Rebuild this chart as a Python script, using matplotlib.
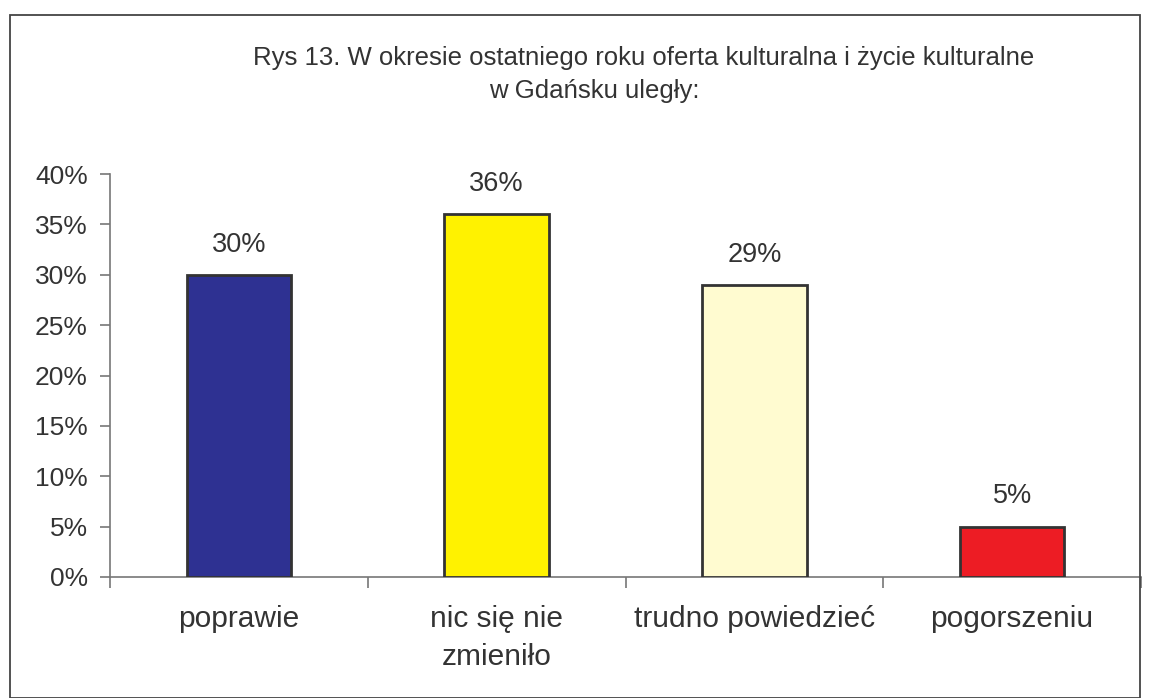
import matplotlib
matplotlib.use("Agg")
import matplotlib.pyplot as plt
from matplotlib.patches import Rectangle
import numpy as np

categories = ["poprawie", "nic się nie\nzmieniło", "trudno powiedzieć", "pogorszeniu"]
values = [30, 36, 29, 5]
colors = ["#2e3192", "#fff200", "#fffbd0", "#ed1c24"]
yticks = [0, 5, 10, 15, 20, 25, 30, 35, 40]

plt.rcParams['font.family'] = ['Liberation Sans', 'DejaVu Sans']
txt = '#333333'

fig = plt.figure(figsize=(11.5, 6.98), dpi=100)
fig.patches.append(Rectangle((10/1150, 0), 1130/1150, 683/698, transform=fig.transFigure,
                             fill=False, edgecolor='#444444', linewidth=1.3))

ax = fig.add_axes([110/1150, 121/698, 1031/1150, 403/698])
loc = np.arange(len(categories))
ax.bar(loc, values, 0.405, color=colors, edgecolor='#333333', linewidth=2, zorder=3)
for x, v in zip(loc, values):
    ax.text(x, v + 3, f"{v}%", ha='center', va='center', fontsize=19.5, color=txt)

ax.set_xlim(-0.5, len(categories) - 0.5)
ax.set_ylim(0, 40)
ax.set_yticks(yticks)
ax.set_yticklabels([f"{t}%" for t in yticks], fontsize=19, color=txt)
ax.set_xticks(loc)
ax.set_xticklabels(categories, fontsize=21.5, color=txt, linespacing=1.45)
ax.tick_params(axis='x', length=0, pad=20)
ax.tick_params(axis='y', length=7, color='#777777', width=1.2, pad=9)
ax.set_xticks(np.arange(len(categories) + 1) - 0.5, minor=True)
ax.tick_params(axis='x', which='minor', length=8, color='#777777', width=1.2, direction='out')

for s in ['top', 'right']:
    ax.spines[s].set_visible(False)
for s in ['left', 'bottom']:
    ax.spines[s].set_color('#777777')
    ax.spines[s].set_linewidth(1.2)

fig.text(644/1150, 1 - 58/698, "Rys 13. W okresie ostatniego roku oferta kulturalna i życie kulturalne",
         ha='center', va='center', fontsize=18.5, color=txt)
fig.text(594/1150, 1 - 91/698, "w Gdańsku uległy:", ha='center', va='center', fontsize=18.5, color=txt)

fig.savefig("out.png", dpi=100)
